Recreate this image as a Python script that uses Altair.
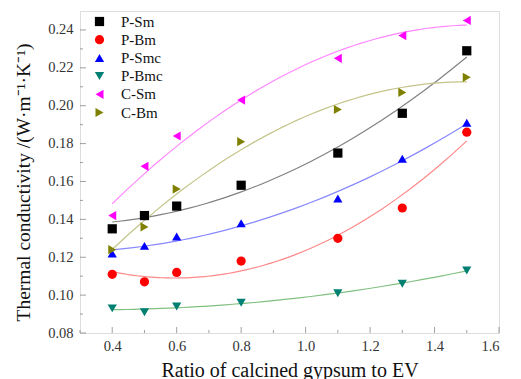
import altair as alt
import pandas as pd

x_vals = [0.4, 0.5, 0.6, 0.8, 1.1, 1.3, 1.5]
series_names = ["P-Sm", "P-Bm", "P-Smc", "P-Bmc", "C-Sm", "C-Bm"]
p_sm = [0.135, 0.142, 0.147, 0.158, 0.175, 0.196, 0.229]
p_bm = [0.111, 0.107, 0.112, 0.118, 0.130, 0.146, 0.186]
p_smc = [0.122, 0.126, 0.131, 0.138, 0.151, 0.172, 0.191]
p_bmc = [0.093, 0.091, 0.094, 0.096, 0.101, 0.106, 0.113]
c_sm = [0.142, 0.168, 0.184, 0.203, 0.225, 0.237, 0.245]
c_bm = [0.124, 0.136, 0.156, 0.181, 0.198, 0.207, 0.215]

marker_colors = ["#000000", "#ff0000", "#0000ff", "#007f73", "#ff00ff", "#808000"]
fit_colors = ["#808080", "#ff8888", "#8888ff", "#80c080", "#ff88ff", "#c4c48a"]
shapes = ["square", "circle", "triangle-up", "triangle-down", "triangle-left", "triangle-right"]

x_major = [0.4, 0.6, 0.8, 1.0, 1.2, 1.4, 1.6]
x_minor = [0.3, 0.5, 0.7, 0.9, 1.1, 1.3, 1.5]
y_major = [0.08, 0.10, 0.12, 0.14, 0.16, 0.18, 0.20, 0.22, 0.24]
y_minor = [0.09, 0.11, 0.13, 0.15, 0.17, 0.19, 0.21, 0.23]

series_values = [p_sm, p_bm, p_smc, p_bmc, c_sm, c_bm]
rows = []
for name, vals in zip(series_names, series_values):
    for xv, yv in zip(x_vals, vals):
        rows.append({"x": xv, "y": yv, "series": name})
df = pd.DataFrame(rows)

W, H = 419, 322
FONT = "Liberation Serif"
xscale = alt.Scale(domain=[0.3, 1.6], nice=False, zero=False)
yscale = alt.Scale(domain=[0.08, 0.25], nice=False, zero=False)

x_axis = alt.Axis(values=x_major, format=".1f", ticks=False, domain=False, grid=False,
                  labelFont=FONT, labelFontSize=14.5, labelColor="#333", labelPadding=6,
                  title="Ratio of calcined gypsum to EV", titleFont=FONT, titleFontSize=20,
                  titleFontWeight="normal", titleColor="#111", titlePadding=8)
y_axis = alt.Axis(values=y_major, format=".2f", ticks=False, domain=False, grid=False,
                  labelFont=FONT, labelFontSize=14.5, labelColor="#333", labelPadding=7,
                  title="Thermal conductivity /(W·m⁻¹·K⁻¹)", titleFont=FONT, titleFontSize=19.5,
                  titleFontWeight="normal", titleColor="#111", titlePadding=14, titleY=171)

fit_layers = []
for name, fc in zip(series_names, fit_colors):
    fit_layers.append(
        alt.Chart(df).transform_filter(alt.datum.series == name).transform_regression(
            "x", "y", method="poly", order=2
        ).mark_line(strokeWidth=1.2, color=fc).encode(
            x=alt.X("x:Q", scale=xscale, axis=x_axis),
            y=alt.Y("y:Q", scale=yscale, axis=y_axis),
        )
    )

leg = alt.Legend(title=None, orient="none", legendX=12, legendY=3, padding=0,
                 labelFont=FONT, labelFontSize=15, labelColor="#111",
                 symbolSize=85, rowPadding=2.2, labelOffset=14)

points = alt.Chart(df).mark_point(filled=True, opacity=1, size=85).encode(
    x=alt.X("x:Q", scale=xscale, axis=x_axis),
    y=alt.Y("y:Q", scale=yscale, axis=y_axis),
    color=alt.Color("series:N", scale=alt.Scale(domain=series_names, range=marker_colors), legend=leg),
    shape=alt.Shape("series:N", scale=alt.Scale(domain=series_names, range=shapes), legend=leg),
)

tick_color = "#777"
xmaj = alt.Chart(pd.DataFrame({"x": x_major})).mark_tick(orient="vertical", size=6, thickness=1, color=tick_color).encode(
    x=alt.X("x:Q", scale=xscale, axis=x_axis), y=alt.value(H - 3))
xmin = alt.Chart(pd.DataFrame({"x": x_minor})).mark_tick(orient="vertical", size=3, thickness=1, color=tick_color).encode(
    x=alt.X("x:Q", scale=xscale, axis=x_axis), y=alt.value(H - 1.5))
ymaj = alt.Chart(pd.DataFrame({"y": y_major})).mark_tick(orient="horizontal", size=6, thickness=1, color=tick_color).encode(
    y=alt.Y("y:Q", scale=yscale, axis=y_axis), x=alt.value(3))
ymin = alt.Chart(pd.DataFrame({"y": y_minor})).mark_tick(orient="horizontal", size=3, thickness=1, color=tick_color).encode(
    y=alt.Y("y:Q", scale=yscale, axis=y_axis), x=alt.value(1.5))

chart = alt.layer(*fit_layers, points, xmaj, xmin, ymaj, ymin).properties(
    width=W, height=H,
    autosize=alt.AutoSizeParams(type="none"),
    padding={"left": 80, "top": 11, "right": 22, "bottom": 46},
).configure_view(stroke="#888", strokeWidth=1.2).configure(background="white")

chart.save("out.html", embed_options={"renderer": "svg", "actions": False})
